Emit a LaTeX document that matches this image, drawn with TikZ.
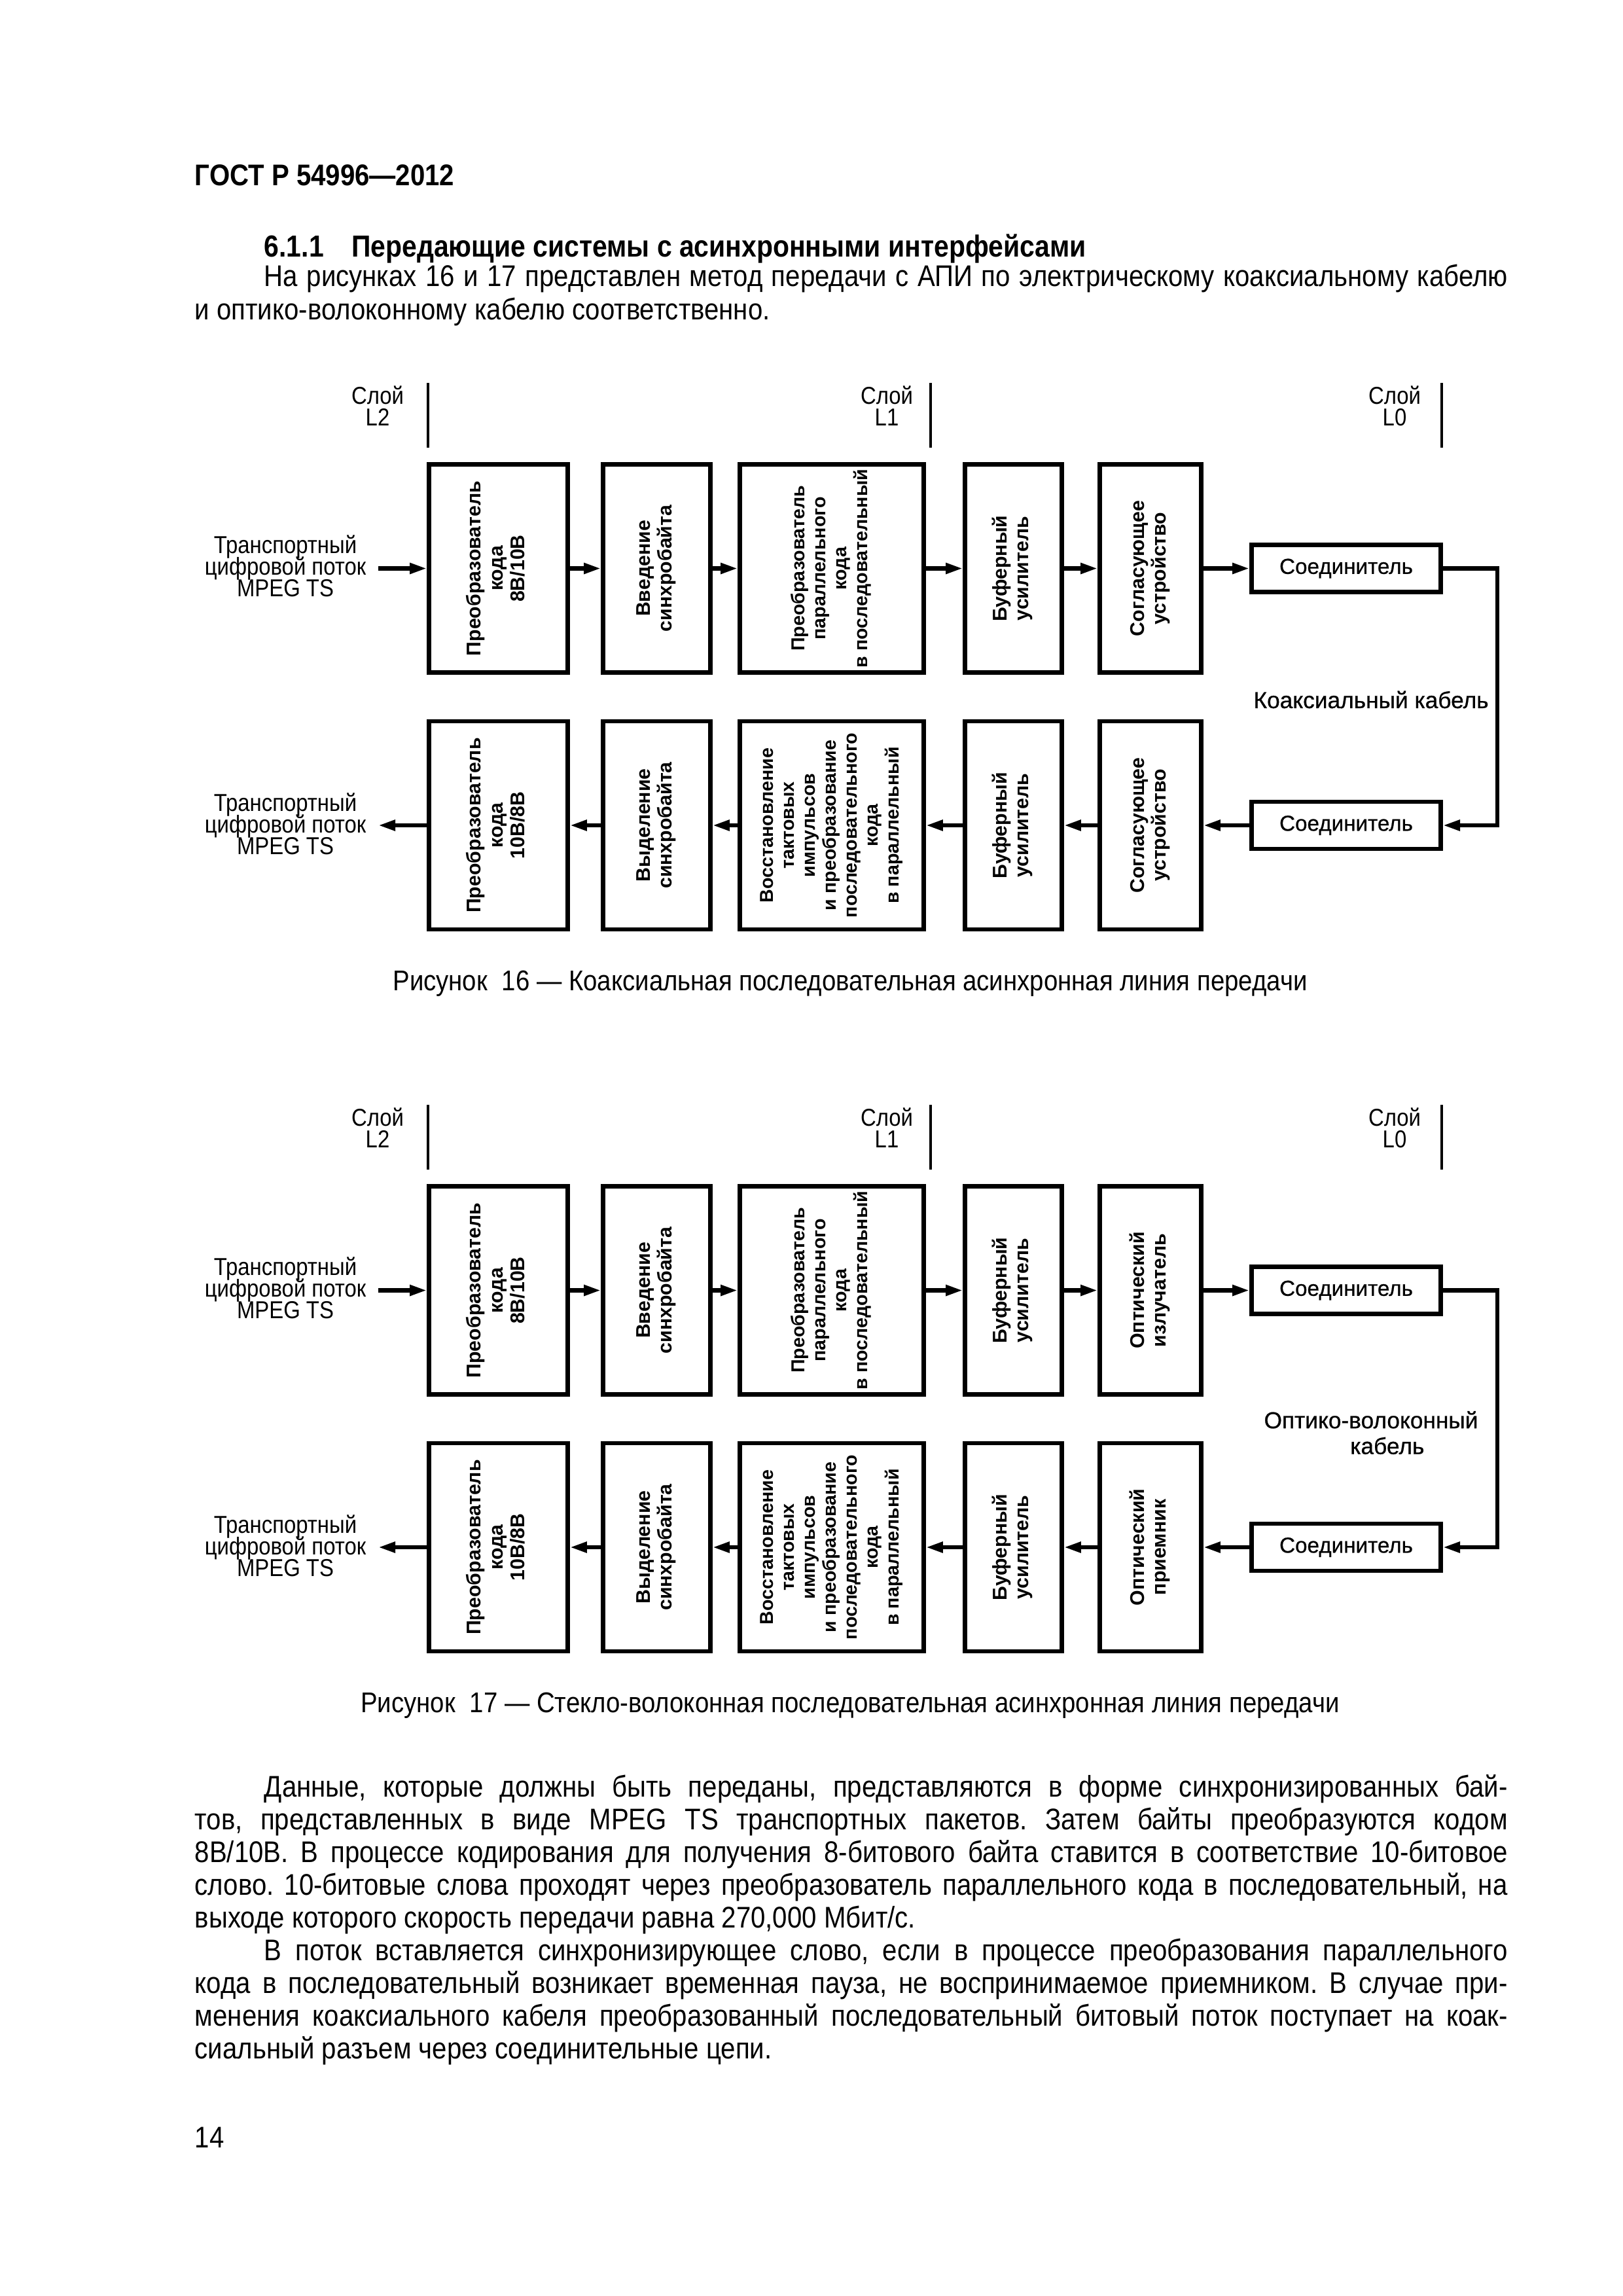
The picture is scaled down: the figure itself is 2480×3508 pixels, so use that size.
\documentclass[tikz,border=0pt]{standalone}
\usepackage{fontspec}
\usepackage{graphicx}
\setmainfont{Liberation Sans}
\newfontfamily\nar[FakeStretch=0.88]{Liberation Sans}
\newfontfamily\medf[FakeBold=0.6]{Liberation Sans}
\usetikzlibrary{arrows.meta}
\frenchspacing
\newdimen\pxu \pxu=0.0846774mm
\newcommand\tightlines{\lineskip=0pt\lineskiplimit=-100pt\relax}
\newcommand\vt[1]{\rotatebox{90}{\fontsize{7.3}{8}\selectfont\bfseries\begin{tabular}{@{}c@{}}#1\end{tabular}}}
\newcommand\vts[1]{\rotatebox{90}{\fontsize{6.9}{7.7}\selectfont\bfseries\begin{tabular}{@{}c@{}}#1\end{tabular}}}
\tikzset{
  box/.style={draw, line width=1.6pt, minimum height=318\pxu, inner sep=0pt},
  conbox/.style={draw, line width=1.6pt, minimum width=289\pxu, minimum height=72\pxu, inner sep=0pt, font=\medf\fontsize{8}{9}\selectfont},
  arr/.style={line width=1.5pt, -{Triangle[length=6.3pt,width=3.8pt]}},
  layer/.style={line width=1pt},
  lbl/.style={align=center, inner sep=0pt, font=\nar\fontsize{9}{8}\selectfont\tightlines},
  cab/.style={align=center, inner sep=0pt, font=\medf\fontsize{8.5}{9.5}\selectfont},
  capt/.style={inner sep=0pt, font=\nar\fontsize{10.5}{12}\selectfont},
  txt/.style={inner sep=0pt, anchor=base west, font=\nar\fontsize{11}{12}\selectfont},
}
% #1 prefix, #2 y offset (px), #3 top b5 text, #4 bottom b5 text, #5 cable label, #6 caption, #7 cable label y
\newcommand\blockdiagram[7]{%
\begin{scope}[yshift=-#2\pxu]
  \node[lbl] (#1L2) at (577,620) {Слой\\L2};
  \node[lbl] (#1L1) at (1355,620) {Слой\\L1};
  \node[lbl] (#1L0) at (2131,620) {Слой\\L0};
  \draw[layer] (654,585) -- (654,684);
  \draw[layer] (1422,585) -- (1422,684);
  \draw[layer] (2203,585) -- (2203,684);
  % top row
  \node[lbl] (#1tin) at (436,865) {Транспортный\\цифровой поток\\MPEG TS};
  \coordinate (#1i) at (578,868.5);
  \node[box, minimum width=212\pxu] (#1t1) at (761.5,868.5) {\vt{Преобразователь\\кода\\8B/10B}};
  \node[box, minimum width=164\pxu] (#1t2) at (1003.5,868.5) {\vt{Введение\\синхробайта}};
  \node[box, minimum width=281\pxu] (#1t3) at (1271,868.5) {\vts{Преобразователь\\параллельного\\кода\\в последовательный}};
  \node[box, minimum width=148\pxu] (#1t4) at (1548.5,868.5) {\vt{Буферный\\усилитель}};
  \node[box, minimum width=155\pxu] (#1t5) at (1758,868.5) {\vt{#3}};
  \node[conbox] (#1c1) at (2057,868.5) {Соединитель};
  \draw[arr] (#1i) -- (#1t1.west);
  \draw[arr] (#1t1.east) -- (#1t2.west);
  \draw[arr] (#1t2.east) -- (#1t3.west);
  \draw[arr] (#1t3.east) -- (#1t4.west);
  \draw[arr] (#1t4.east) -- (#1t5.west);
  \draw[arr] (#1t5.east) -- (#1c1.west);
  % bottom row
  \node[lbl] (#1bout) at (436,1259) {Транспортный\\цифровой поток\\MPEG TS};
  \coordinate (#1o) at (578,1261);
  \node[box, minimum width=212\pxu] (#1b1) at (761.5,1261) {\vt{Преобразователь\\кода\\10B/8B}};
  \node[box, minimum width=164\pxu] (#1b2) at (1003.5,1261) {\vt{Выделение\\синхробайта}};
  \node[box, minimum width=281\pxu] (#1b3) at (1271,1261) {\vts{Восстановление\\тактовых\\импульсов\\и преобразование\\последовательного\\кода\\в параллельный}};
  \node[box, minimum width=148\pxu] (#1b4) at (1548.5,1261) {\vt{Буферный\\усилитель}};
  \node[box, minimum width=155\pxu] (#1b5) at (1758,1261) {\vt{#4}};
  \node[conbox] (#1c2) at (2057,1261) {Соединитель};
  \draw[arr] (#1b1.west) -- (#1o);
  \draw[arr] (#1b2.west) -- (#1b1.east);
  \draw[arr] (#1b3.west) -- (#1b2.east);
  \draw[arr] (#1b4.west) -- (#1b3.east);
  \draw[arr] (#1b5.west) -- (#1b4.east);
  \draw[arr] (#1c2.west) -- (#1b5.east);
  % cable
  \coordinate (#1k) at (2288,868.5);
  \draw[arr] (#1c1.east) -- (#1k) |- (#1c2.east);
  \node[cab] (#1cab) at (2095,#7) {#5};
  \node[capt] (#1cap) at (1299,1503) {#6};
\end{scope}}
\begin{document}
\begin{tikzpicture}[x=0.0846774mm, y=-0.0846774mm]
\fill[white] (0,0) rectangle (2480,3508);
\useasboundingbox (0,0) rectangle (2480,3508);
% header text
\node[txt, font=\nar\bfseries\fontsize{11}{12}\selectfont] (hdr) at (297,283) {ГОСТ Р 54996—2012};
\node[txt, font=\nar\bfseries\fontsize{11.2}{12}\selectfont] (sec) at (403,392) {6.1.1\enspace\, Передающие системы с асинхронными интерфейсами};
\node[txt] (p1a) at (403,437) {\hbox to 1900\pxu{На рисунках 16 и 17 представлен метод передачи с АПИ по электрическому коаксиальному кабелю}};
\node[txt] (p1b) at (297,488) {и оптико-волоконному кабелю соответственно.};
% diagrams
\blockdiagram{a}{0}{Согласующее\\устройство}{Согласующее\\устройство}{Коаксиальный кабель}{Рисунок\enspace 16 — Коаксиальная последовательная асинхронная линия передачи}{1069}
\blockdiagram{b}{1103}{Оптический\\излучатель}{Оптический\\приемник}{Оптико-волоконный\\\hspace*{4.2mm}кабель}{Рисунок\enspace 17 — Стекло-волоконная последовательная асинхронная линия передачи}{1086}
% body text
\node[txt] (q1) at (403,2745) {\hbox to 1900\pxu{Данные, которые должны быть переданы, представляются в форме синхронизированных бай-}};
\node[txt] (q2) at (297,2795) {\hbox to 2006\pxu{тов, представленных в виде MPEG TS транспортных пакетов. Затем байты преобразуются кодом}};
\node[txt] (q3) at (297,2845) {\hbox to 2006\pxu{8B/10B. В процессе кодирования для получения 8-битового байта ставится в соответствие 10-битовое}};
\node[txt] (q4) at (297,2895) {\hbox to 2006\pxu{слово. 10-битовые слова проходят через преобразователь параллельного кода в последовательный, на}};
\node[txt] (q5) at (297,2945) {выходе которого скорость передачи равна 270,000 Мбит/с.};
\node[txt] (q6) at (403,2995) {\hbox to 1900\pxu{В поток вставляется синхронизирующее слово, если в процессе преобразования параллельного}};
\node[txt] (q7) at (297,3045) {\hbox to 2006\pxu{кода в последовательный возникает временная пауза, не воспринимаемое приемником. В случае при-}};
\node[txt] (q8) at (297,3095) {\hbox to 2006\pxu{менения коаксиального кабеля преобразованный последовательный битовый поток поступает на коак-}};
\node[txt] (q9) at (297,3145) {сиальный разъем через соединительные цепи.};
\node[txt] (pg) at (297,3281) {14};
\end{tikzpicture}
\end{document}
